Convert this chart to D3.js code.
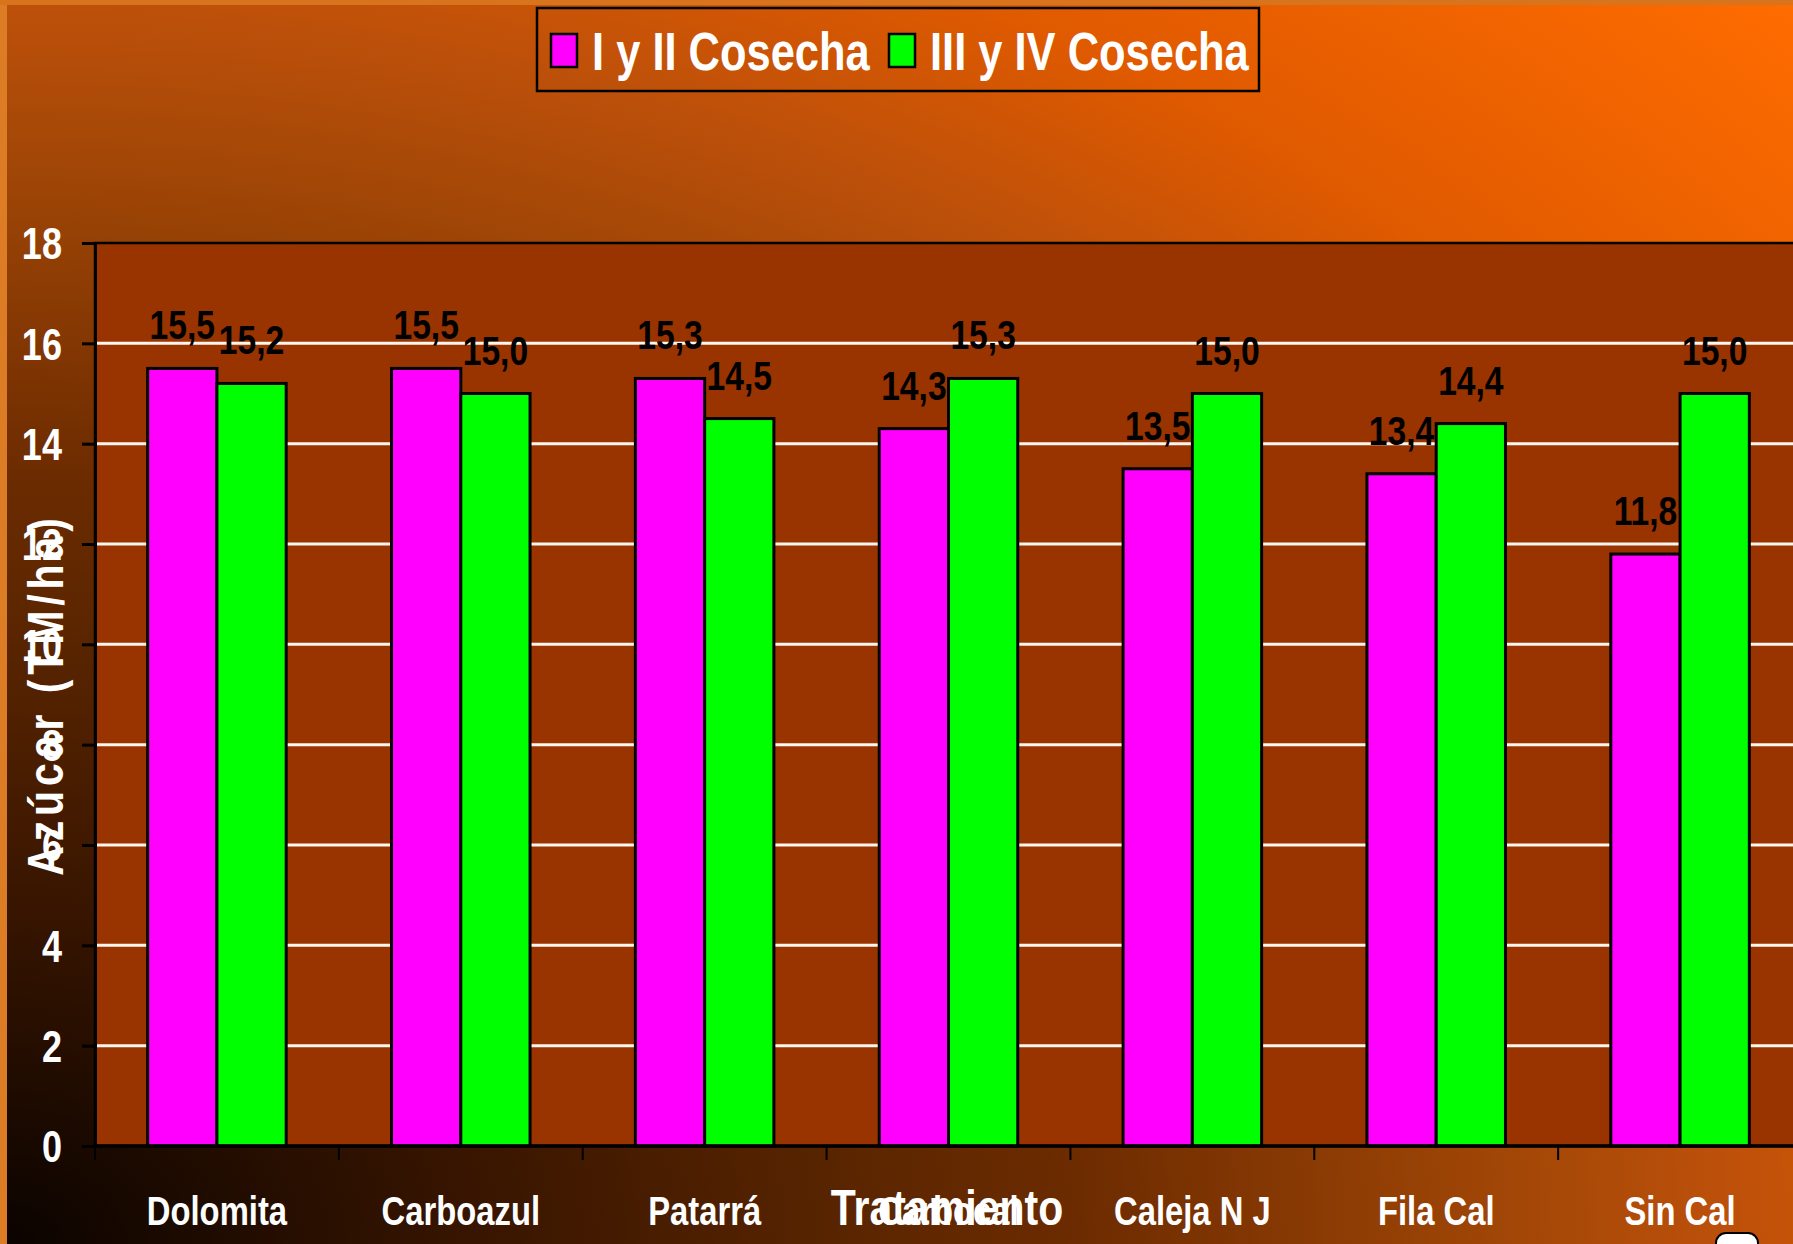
<html>
  <head>
    <script src="https://d3js.org/d3.v7.min.js"></script>
    <style>
      body { margin: 0; background: #000; }
      text { font-family: "Liberation Sans", Arial, sans-serif; font-weight: bold; }
      .tick-label { fill: white; font-size: 44px; }
      .cat-label { fill: white; font-size: 40px; }
      .val-label { fill: black; font-size: 41px; }
      .legend-text { fill: white; font-size: 53px; }
    </style>
  </head>
  <body>
    <svg id="chart" width="1793" height="1244"></svg>
    <script>
      // data
      const categories = ["Dolomita", "Carboazul", "Patarrá", "Carbocal", "Caleja N J", "Fila Cal", "Sin Cal"];
      const seriesNames = ["I y II Cosecha", "III y IV Cosecha"];
      const cosecha12 = [15.5, 15.5, 15.3, 14.3, 13.5, 13.4, 11.8];
      const cosecha34 = [15.2, 15.0, 14.5, 15.3, 15.0, 14.4, 15.0];
      const yTicks = [0, 2, 4, 6, 8, 10, 12, 14, 16, 18];
      const colors = ["#ff00ff", "#00ff00"];

      const NARROW = 0.82; // no Arial Narrow installed, squeeze Liberation Sans instead

      // move x/y into a transform so the text can be squeezed horizontally
      function condense(sel) {
        sel.each(function() {
          const t = d3.select(this);
          const x = +t.attr("x") || 0, y = +t.attr("y") || 0;
          t.attr("x", 0).attr("y", 0)
           .attr("transform", `translate(${x},${y}) scale(${NARROW},1)`);
        });
      }

      const svg = d3.select("svg#chart");
      const width = +svg.attr("width");
      const height = +svg.attr("height");
      const margin = {top: 243, left: 95};
      const plotW = 1707, plotH = 903;

      // background gradient, dark in the bottom-left corner, stretched sideways
      const defs = svg.append("defs");
      const grad = defs.append("radialGradient").attr("id", "bg")
        .attr("gradientUnits", "userSpaceOnUse")
        .attr("cx", 0).attr("cy", height).attr("r", 1785)
        .attr("gradientTransform", "scale(1.4,1)");
      grad.append("stop").attr("offset", "0%").attr("stop-color", "#0a0300");
      grad.append("stop").attr("offset", "19%").attr("stop-color", "#381500");
      grad.append("stop").attr("offset", "36%").attr("stop-color", "#5e2700");
      grad.append("stop").attr("offset", "43%").attr("stop-color", "#6c2b00");
      grad.append("stop").attr("offset", "60%").attr("stop-color", "#a04606");
      grad.append("stop").attr("offset", "69%").attr("stop-color", "#bc500a");
      grad.append("stop").attr("offset", "80%").attr("stop-color", "#e05a00");
      grad.append("stop").attr("offset", "100%").attr("stop-color", "#ff6c00");
      svg.append("rect").attr("width", width).attr("height", height).attr("fill", "url(#bg)");
      svg.append("rect").attr("width", 7).attr("height", height).attr("fill", "#dc7c24");
      svg.append("rect").attr("width", width).attr("height", 5).attr("fill", "#d8741e");

      const data = categories.map((c, i) => ({cat: c, values: [cosecha12[i], cosecha34[i]]}));

      const x0 = d3.scaleBand().domain(categories)
        .range([margin.left, margin.left + plotW])
        .paddingInner(0.432).paddingOuter(0.216);
      const x1 = d3.scaleBand().domain([0, 1]).range([0, x0.bandwidth()]);
      const y = d3.scaleLinear().domain([0, 18]).range([margin.top + plotH, margin.top]);

      // plot area
      svg.append("rect")
        .attr("x", margin.left).attr("y", margin.top)
        .attr("width", plotW).attr("height", plotH)
        .attr("fill", "#993300").attr("stroke", "black").attr("stroke-width", 2.5);

      // gridlines
      svg.append("g").selectAll("line")
        .data(yTicks.filter(d => d > 0 && d < 18))
        .join("line")
        .attr("x1", margin.left).attr("x2", margin.left + plotW)
        .attr("y1", d => y(d)).attr("y2", d => y(d))
        .attr("stroke", "#fff6ee").attr("stroke-width", 3);

      // bars
      const groups = svg.append("g").selectAll("g")
        .data(data).join("g")
        .attr("transform", d => `translate(${x0(d.cat)},0)`);
      groups.selectAll("rect")
        .data(d => d.values)
        .join("rect")
        .attr("x", (d, i) => x1(i))
        .attr("y", d => y(d))
        .attr("width", x1.bandwidth())
        .attr("height", d => y(0) - y(d))
        .attr("fill", (d, i) => colors[i])
        .attr("stroke", "black").attr("stroke-width", 3);

      // value labels
      groups.selectAll("text")
        .data(d => d.values)
        .join("text")
        .attr("class", "val-label")
        .attr("x", (d, i) => x1(i) + x1.bandwidth() / 2)
        .attr("y", d => y(d) - 29)
        .attr("text-anchor", "middle")
        .text(d => d3.format(".1f")(d).replace(".", ","))
        .call(condense);

      // y axis
      const yAxis = d3.axisLeft(y).tickValues(yTicks).tickSize(13).tickPadding(20);
      const gy = svg.append("g").attr("transform", `translate(${margin.left},0)`).call(yAxis);
      gy.select(".domain").attr("stroke", "black").attr("stroke-width", 3);
      gy.selectAll(".tick line").attr("stroke", "black").attr("stroke-width", 3);
      gy.selectAll(".tick text").attr("class", "tick-label").attr("dy", "0.36em")
        .attr("font-family", null).attr("font-size", null).attr("fill", null)
        .call(condense);

      // x axis
      const step = x0.step();
      const bounds = categories.map(c => x0(c) - x0.paddingInner() * step / 2).concat([margin.left + plotW]);
      svg.append("line")
        .attr("x1", margin.left).attr("x2", margin.left + plotW)
        .attr("y1", y(0)).attr("y2", y(0))
        .attr("stroke", "black").attr("stroke-width", 3.5);
      svg.append("g").selectAll("line")
        .data(bounds).join("line")
        .attr("x1", d => d).attr("x2", d => d)
        .attr("y1", y(0)).attr("y2", y(0) + 14)
        .attr("stroke", "black").attr("stroke-width", 2);
      svg.append("g").selectAll("text")
        .data(categories).join("text")
        .attr("class", "cat-label")
        .attr("x", d => x0(d) + x0.bandwidth() / 2)
        .attr("y", 1225)
        .attr("text-anchor", "middle")
        .text(d => d)
        .call(condense);

      // axis titles
      svg.append("text")
        .attr("x", 947).attr("y", 1225)
        .attr("text-anchor", "middle")
        .style("fill", "white").style("font-size", "50px")
        .text("Tratamiento")
        .call(condense);
      svg.append("text")
        .attr("transform", `translate(63,${margin.top + plotH / 2}) rotate(-90) scale(${NARROW},1)`)
        .attr("text-anchor", "middle")
        .style("fill", "white").style("font-size", "50px").style("letter-spacing", "6px")
        .text("Azúcar (TM/ha)");

      // legend
      const legend = svg.append("g");
      legend.append("rect")
        .attr("x", 537).attr("y", 8).attr("width", 722).attr("height", 83)
        .attr("fill", "none").attr("stroke", "black").attr("stroke-width", 2.5);
      const legendX = [551, 889];
      seriesNames.forEach((name, i) => {
        legend.append("rect")
          .attr("x", legendX[i]).attr("y", 34).attr("width", 26).attr("height", 33)
          .attr("fill", colors[i]).attr("stroke", "black").attr("stroke-width", 2.5);
        legend.append("text")
          .attr("class", "legend-text")
          .attr("x", legendX[i] + 41).attr("y", 70)
          .text(name)
          .call(condense);
      });

      // little badge cut off at the bottom-right corner
      svg.append("rect")
        .attr("x", 1716).attr("y", 1233).attr("width", 42).attr("height", 24).attr("rx", 10)
        .attr("fill", "white").attr("stroke", "black").attr("stroke-width", 2);
    </script>
  </body>
</html>
